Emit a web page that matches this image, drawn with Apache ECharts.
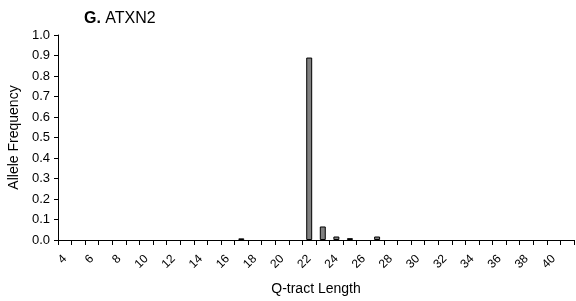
<!DOCTYPE html>
<html><head><meta charset="utf-8">
<script src="https://cdn.jsdelivr.net/npm/echarts@6/dist/echarts.min.js"></script>
<style>html,body{margin:0;padding:0;background:#fff}#c{width:576px;height:301px}</style>
</head><body><div id="c"></div>
<script>
var categories = [];
for (var q = 4; q <= 41; q++) categories.push(String(q));
var freqByLength = {17: 0.008, 22: 0.89, 23: 0.066, 24: 0.017, 25: 0.009, 27: 0.017};
var values = categories.map(function (c) { return freqByLength[c] || 0; });
var yTicks = [0, 0.1, 0.2, 0.3, 0.4, 0.5, 0.6, 0.7, 0.8, 0.9, 1.0];

var chart = echarts.init(document.getElementById('c'), null, {renderer: 'canvas'});
var font = 'Liberation Sans, Arial, sans-serif';
chart.setOption({
  animation: false,
  backgroundColor: '#fff',
  title: {
    text: '{b|G.} ATXN2', left: 84, top: 11, padding: 0,
    textStyle: {fontFamily: font, fontSize: 16, fontWeight: 'normal', color: '#000',
      rich: {b: {fontFamily: font, fontSize: 16, fontWeight: 'bold', color: '#000'}}}
  },
  grid: {left: 58, right: 2, top: 35, bottom: 61, containLabel: false, outerBoundsMode: 'none'},
  xAxis: {
    type: 'category', data: categories, boundaryGap: true,
    name: 'Q-tract Length', nameLocation: 'middle', nameGap: 42,
    nameTextStyle: {fontFamily: font, fontSize: 14, color: '#000'},
    axisLine: {lineStyle: {color: '#000', width: 1}},
    axisTick: {show: true, interval: 0, length: 5, lineStyle: {color: '#000'}},
    axisLabel: {interval: 1, rotate: 45, fontFamily: font, fontSize: 12, color: '#000', margin: 17},
    splitLine: {show: false}
  },
  yAxis: {
    type: 'value', min: 0, max: 1, interval: 0.1,
    name: 'Allele Frequency', nameLocation: 'middle', nameGap: 36, nameRotate: 90,
    nameTextStyle: {fontFamily: font, fontSize: 14, color: '#000'},
    axisLine: {show: true, lineStyle: {color: '#000', width: 1}},
    axisTick: {show: true, length: 4, lineStyle: {color: '#000'}},
    axisLabel: {fontFamily: font, fontSize: 13, color: '#000', margin: 8,
      formatter: function (v) { return v.toFixed(1); }},
    splitLine: {show: false}
  },
  series: [{
    type: 'bar', barCategoryGap: '56%',
    data: values.map(function (v) { return v === 0 ? '-' : v; }),
    itemStyle: {color: '#808080', borderColor: '#000', borderWidth: 1}
  }]
});
</script></body></html>
